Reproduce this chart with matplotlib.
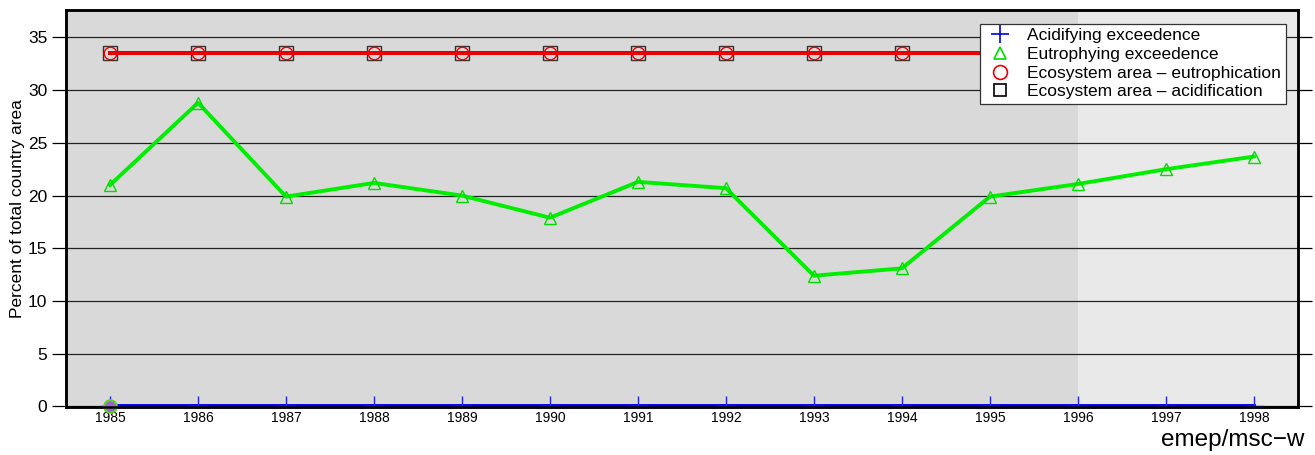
import numpy as np
import matplotlib.pyplot as plt
from matplotlib.lines import Line2D

plt.rcParams['font.family'] = ['Liberation Sans', 'DejaVu Sans']

# data
years = [1985, 1986, 1987, 1988, 1989, 1990, 1991, 1992, 1993, 1994, 1995, 1996, 1997, 1998]
acid_exc = [0.0] * 14
eutr_exc = [21.0, 28.8, 19.9, 21.2, 20.0, 17.9, 21.3, 20.7, 12.4, 13.1, 19.9, 21.1, 22.5, 23.7]
eco_years = [1985, 1986, 1987, 1988, 1989, 1990, 1991, 1992, 1993, 1994, 1995]
eco_eutr = [33.5] * 11
eco_acid = [33.5] * 11
yticks = [0, 5, 10, 15, 20, 25, 30, 35]

fig = plt.figure(figsize=(13.15, 4.55), dpi=100)
ax = fig.add_axes([0.0502, 0.1055, 0.9368, 0.8725])

# background bands
ax.axvspan(1984.5, 1996, color='#d9d9d9', zorder=0, lw=0)
ax.axvspan(1996, 1998.5, color='#e9e9e9', zorder=0, lw=0)
ax.set_xlim(1984.5, 1998.5)
ax.set_ylim(-0.05, 37.6)

for y in yticks:
    ax.axhline(y, color='#222222', lw=0.9, zorder=1)

# series
ax.plot(eco_years, eco_acid, color='black', lw=2.8, marker='s', ms=10,
        mfc='none', mec='#333333', mew=1.0, zorder=3)
ax.plot(eco_years, eco_eutr, color='#ee0000', lw=2.8, marker='o', ms=9,
        mfc='none', mec='#ee0000', mew=1.0, zorder=4)
ax.plot(years, eutr_exc, color='#00ee00', lw=2.8, marker='^', ms=8,
        mfc='none', mec='#00dd00', mew=1.0, zorder=4)
ax.plot(years, acid_exc, color='#0000ee', lw=2.8, marker='+', ms=14,
        mec='#2222ff', mew=1.0, zorder=5)
ax.plot([years[0]], [0], marker='o', ms=9, mfc='#9966cc', mec='#66cc33',
        mew=1.5, zorder=6, clip_on=False)

ax.set_xticks(years)
ax.set_xticklabels([str(y) for y in years], fontsize=10)
ax.tick_params(axis='x', length=0, pad=3)
ax.set_yticks(yticks)
ax.tick_params(axis='y', length=10, width=0.9, labelsize=12.5, direction='out')
ax.set_ylabel('Percent of total country area', fontsize=12.5, labelpad=2)

ax2 = ax.twinx()
ax2.set_ylim(ax.get_ylim())
ax2.set_yticks(yticks)
ax2.tick_params(axis='y', length=10, width=0.9, labelsize=12.5, direction='out')

for a in (ax, ax2):
    for s in ('left', 'top', 'right', 'bottom'):
        a.spines[s].set_linewidth(1.8)

handles = [
    Line2D([], [], ls='none', marker='+', ms=13, mec='#0000ee', mew=1.2),
    Line2D([], [], ls='none', marker='^', ms=8, mfc='none', mec='#00dd00', mew=1.2),
    Line2D([], [], ls='none', marker='o', ms=10, mfc='none', mec='#ee0000', mew=1.2),
    Line2D([], [], ls='none', marker='s', ms=9, mfc='none', mec='black', mew=1.2),
]
labels = ['Acidifying exceedence', 'Eutrophying exceedence',
          'Ecosystem area \u2013 eutrophication', 'Ecosystem area \u2013 acidification']
leg = ax2.legend(handles, labels, loc='upper right', bbox_to_anchor=(0.990, 0.965),
                 fontsize=12.5, frameon=True, fancybox=False, framealpha=1,
                 edgecolor='#333333', borderpad=0.25, labelspacing=0.2,
                 handletextpad=0.6, handlelength=1.9, borderaxespad=0)
leg.get_frame().set_linewidth(0.9)

fig.text(0.992, 0.008, 'emep/msc\u2212w', fontsize=17.5, ha='right', va='bottom')

fig.savefig('out.png', dpi=100)
